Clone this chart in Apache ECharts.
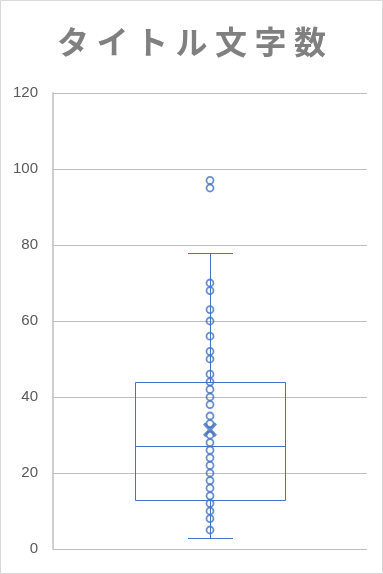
<!DOCTYPE html>
<html><head><meta charset="utf-8">
<script src="https://cdn.jsdelivr.net/npm/echarts@6/dist/echarts.min.js"></script>
<style>html,body{margin:0;padding:0;background:#fff}#c{width:383px;height:574px}</style>
</head><body><div id="c"></div>
<script>
const titleText = 'タイトル文字数';
const categories = [''];
const yTicks = [0, 20, 40, 60, 80, 100, 120];
const boxStats = [3, 13, 27, 44, 78]; // min, Q1, median, Q3, max
const meanValue = [31.4];
const innerPoints = [5, 8, 10, 12, 14, 16, 18, 20, 22, 24, 26, 28, 30, 33, 35, 38, 40, 42, 44, 46, 50, 52, 56, 60, 63, 68, 70];
const outliers = [95, 97];

const BLUE = '#4472C4';
const chart = echarts.init(document.getElementById('c'), null, {renderer: 'canvas'});
const richTitle = titleText.split('').map(ch => '{t|' + ch + '}').join('');

function renderBox(params, api) {
  const xi = api.value(0);
  const band = api.size([1, 0])[0];
  const p = (v) => api.coord([xi, v]);
  const cx = Math.round(p(boxStats[0])[0]) + 0.5;
  const yMin = Math.round(p(api.value(1))[1]) + 0.5;
  const yQ1 = Math.round(p(api.value(2))[1]) + 0.5;
  const yMed = Math.round(p(api.value(3))[1]) + 0.5;
  const yQ3 = Math.round(p(api.value(4))[1]) + 0.5;
  const yMax = Math.round(p(api.value(5))[1]) + 0.5;
  const bw = Math.round(band * 0.478);
  const cw = Math.round(band * 0.142);
  const st = {stroke: BLUE, lineWidth: 1, fill: null};
  return {
    type: 'group',
    children: [
      {type: 'rect', shape: {x: cx - bw / 2, y: yQ3, width: bw, height: yQ1 - yQ3}, style: {stroke: BLUE, lineWidth: 1, fill: 'rgba(0,0,0,0)'}},
      {type: 'line', shape: {x1: cx - bw / 2, y1: yMed, x2: cx + bw / 2, y2: yMed}, style: st},
      {type: 'line', shape: {x1: cx, y1: yQ3, x2: cx, y2: yMax}, style: st},
      {type: 'line', shape: {x1: cx, y1: yQ1, x2: cx, y2: yMin}, style: st},
      {type: 'line', shape: {x1: cx - cw / 2, y1: yMax, x2: cx + cw / 2, y2: yMax}, style: st},
      {type: 'line', shape: {x1: cx - cw / 2, y1: yMin, x2: cx + cw / 2, y2: yMin}, style: st}
    ]
  };
}

const pointStyle = {color: 'rgba(0,0,0,0)', borderColor: BLUE, borderWidth: 1.8};

chart.setOption({
  animation: false,
  backgroundColor: '#fff',
  title: {
    text: richTitle,
    left: 'center',
    top: 19,
    textStyle: {
      rich: {
        t: {fontFamily: '"Noto Sans CJK JP"', fontSize: 32, fontWeight: 'bold', color: '#808080', width: 39.5, align: 'center', lineHeight: 36}
      }
    }
  },
  graphic: [{
    type: 'rect', z: 100, silent: true,
    shape: {x: 0.5, y: 0.5, width: 382, height: 573},
    style: {fill: null, stroke: '#d9d9d9', lineWidth: 1}
  }],
  grid: {left: 53, right: 16, top: 93, bottom: 25},
  xAxis: {
    type: 'category', data: categories, boundaryGap: true,
    axisLine: {show: false}, axisTick: {show: false}, axisLabel: {show: false}, splitLine: {show: false}
  },
  yAxis: {
    type: 'value', min: yTicks[0], max: yTicks[yTicks.length - 1], interval: yTicks[1] - yTicks[0],
    axisLine: {show: true, lineStyle: {color: '#bfbfbf', width: 1.5}},
    axisTick: {show: false},
    axisLabel: {color: '#595959', fontFamily: '"Liberation Sans"', fontSize: 15, margin: 15, padding: [4, 0, 0, 0]},
    splitLine: {lineStyle: {color: '#bfbfbf', width: 1}}
  },
  series: [
    {
      type: 'custom', z: 2, renderItem: renderBox,
      encode: {x: 0, y: [1, 2, 3, 4, 5]},
      data: [[0].concat(boxStats)]
    },
    {
      type: 'scatter', z: 3, symbol: 'circle', symbolSize: 7,
      itemStyle: pointStyle,
      data: innerPoints.map(v => [0, v])
    },
    {
      type: 'scatter', z: 3, symbol: 'circle', symbolSize: 7,
      itemStyle: pointStyle,
      data: outliers.map(v => [0, v])
    },
    {
      type: 'scatter', z: 4,
      symbol: 'path://M0,1.6 L1.6,0 L5,3.4 L8.4,0 L10,1.6 L6.6,5 L10,8.4 L8.4,10 L5,6.6 L1.6,10 L0,8.4 L3.4,5 Z',
      symbolSize: [14, 15],
      itemStyle: {color: BLUE},
      data: meanValue.map(v => [0, v])
    }
  ]
});
</script>
</body></html>
